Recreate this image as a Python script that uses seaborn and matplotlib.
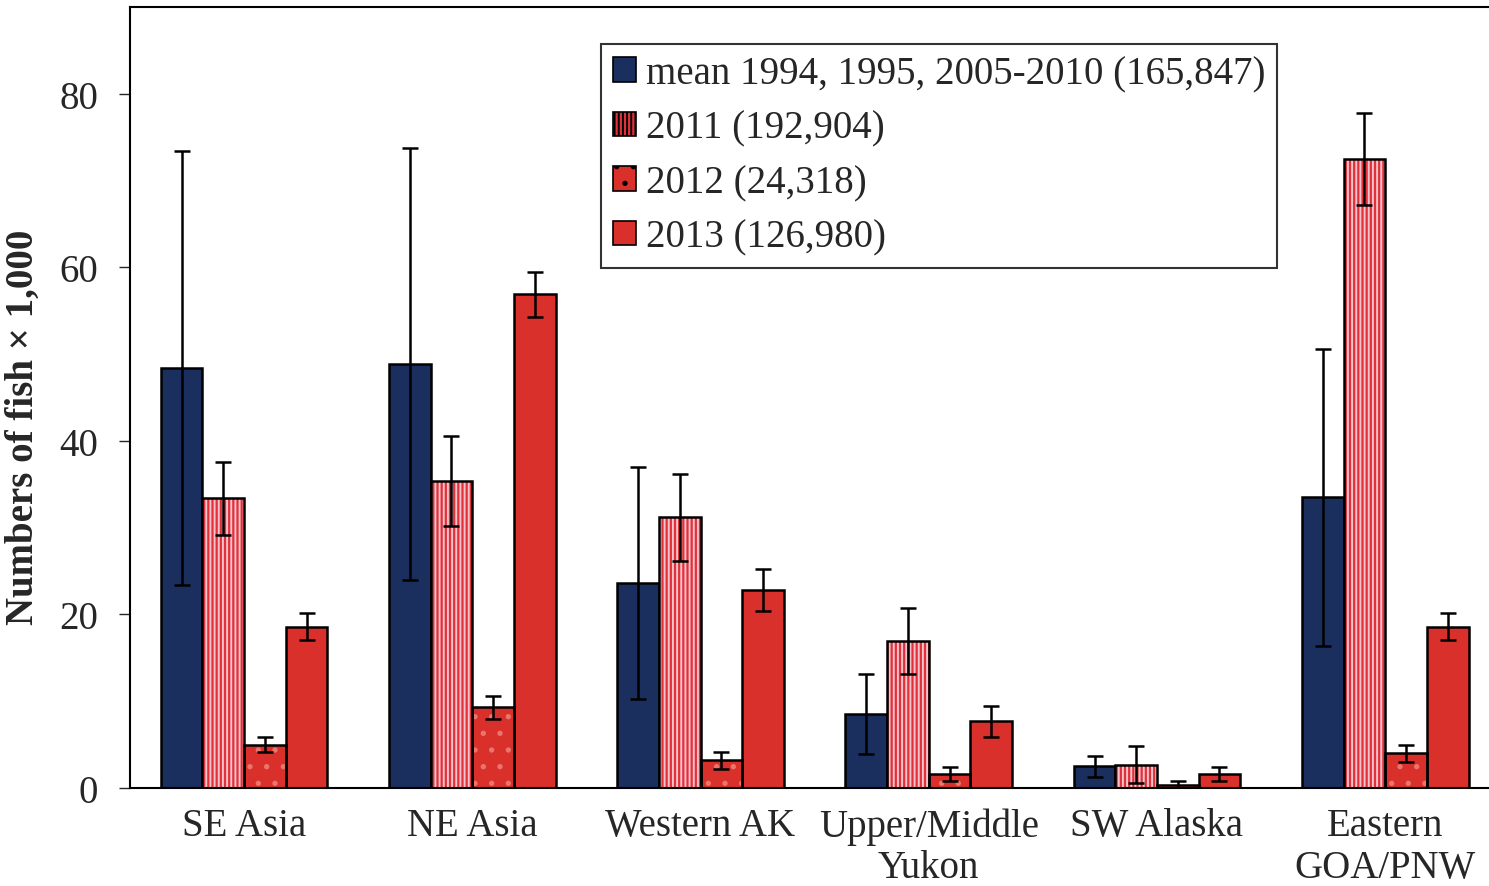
import numpy as np
import pandas as pd
import matplotlib
matplotlib.use("Agg")
import matplotlib.pyplot as plt
from matplotlib.patches import Rectangle
import seaborn as sns

regions = ["SE Asia", "NE Asia", "Western AK", "Upper/Middle\nYukon", "SW Alaska", "Eastern\nGOA/PNW"]
series = ["mean 1994, 1995, 2005-2010 (165,847)", "2011 (192,904)", "2012 (24,318)", "2013 (126,980)"]

mean_vals = [48.4, 48.9, 23.6, 8.5, 2.5, 33.5]
mean_err = [25.0, 24.9, 13.4, 4.6, 1.2, 17.1]
y2011_vals = [33.4, 35.4, 31.2, 16.9, 2.7, 72.5]
y2011_err = [4.2, 5.2, 5.0, 3.8, 2.1, 5.3]
y2012_vals = [5.0, 9.3, 3.2, 1.6, 0.35, 4.0]
y2012_err = [0.9, 1.3, 1.0, 0.8, 0.5, 1.0]
y2013_vals = [18.6, 56.9, 22.8, 7.7, 1.6, 18.6]
y2013_err = [1.6, 2.6, 2.4, 1.8, 0.8, 1.6]

values = [mean_vals, y2011_vals, y2012_vals, y2013_vals]
errors = [mean_err, y2011_err, y2012_err, y2013_err]
colors = ["#1b2f5e", "#e0303a", "#d9302c", "#d9302c"]
hatches = [None, "||||", ".", None]
hatch_colors = [None, "#f6c3ca", "#e8766c", None]

df = pd.DataFrame({
    "region": regions * 4,
    "series": np.repeat(series, len(regions)),
    "value": sum(values, []),
})

sns.set_style("white")
plt.rcParams["font.family"] = ["Liberation Serif", "DejaVu Serif"]
plt.rcParams["hatch.linewidth"] = 1.4

fig = plt.figure(figsize=(14.89, 8.87), dpi=100)
ax = fig.add_axes([0.0873, 0.1105, 0.9227, 0.8805])

sns.barplot(data=df, x="region", y="value", hue="series", order=regions,
            hue_order=series, palette=colors, width=0.73, saturation=1,
            errorbar=None, ax=ax, legend=True)

bar_containers = list(ax.containers)
for i, cont in enumerate(bar_containers):
    xs = []
    for p in cont.patches:
        xs.append(p.get_x() + p.get_width() / 2)
        if hatches[i]:
            p.set_hatch(hatches[i])
            p.set_edgecolor(hatch_colors[i])
            p.set_linewidth(0)
            ax.add_patch(Rectangle(p.get_xy(), p.get_width(), p.get_height(),
                                   fill=False, edgecolor="black", linewidth=1.8, zorder=3))
        else:
            p.set_edgecolor("black")
            p.set_linewidth(1.8)
    ax.errorbar(xs, values[i], yerr=errors[i], fmt="none", ecolor="black",
                elinewidth=1.8, capsize=6, capthick=1.8, zorder=4)

ax.set_ylim(0, 90)
ax.set_xlim(-0.5, 5.52)
ax.set_yticks([0, 20, 40, 60, 80])
ax.set_xlabel("")
ax.set_ylabel("Numbers of fish \u00d7 1,000", fontsize=28, fontweight="bold")
ax.yaxis.set_label_coords(-0.064, 0.463)
ax.tick_params(axis="y", labelsize=28, length=8, width=1.0, direction="out", left=True, pad=15)
ax.tick_params(axis="x", labelsize=28, length=0, pad=14)
for lab in ax.get_xticklabels():
    lab.set_linespacing(1.15)
for s in ["left", "top", "bottom"]:
    ax.spines[s].set_visible(True)
    ax.spines[s].set_color("black")
    ax.spines[s].set_linewidth(1.5)
ax.spines["right"].set_visible(False)

handles, labels = ax.get_legend_handles_labels()
for i, h in enumerate(handles):
    h.set_edgecolor("black")
    h.set_linewidth(1.2)
    if hatches[i]:
        h.set_hatch(hatches[i])
leg = ax.legend(handles, labels, loc="upper left", bbox_to_anchor=(0.343, 0.953),
                borderaxespad=0, fontsize=28, frameon=True, fancybox=False,
                edgecolor="black", handlelength=0.6, handleheight=0.6,
                handletextpad=0.25, labelspacing=0.45, borderpad=0.3)
leg.get_frame().set_linewidth(1.5)

fig.savefig("out.png", dpi=100)
